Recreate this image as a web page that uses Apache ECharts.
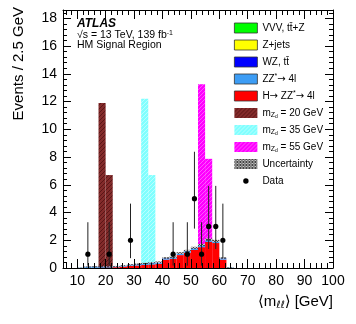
<!DOCTYPE html>
<html>
<head>
<meta charset="utf-8">
<script src="https://cdn.jsdelivr.net/npm/echarts@6/dist/echarts.min.js"></script>
<style>
  html, body { margin: 0; padding: 0; background: #fff; }
  #chart { width: 356px; height: 324px; }
</style>
</head>
<body>
<div id="chart"></div>
<script>
// histogram bins (low edges, GeV)
const binLow = [10, 12.5, 15, 17.5, 20, 22.5, 25, 27.5, 30, 32.5, 35, 37.5, 40, 42.5, 45, 47.5, 50, 52.5, 55, 57.5, 60, 62.5];
const binWidth = 2.5;

// background stack
const hzz = [0, 0, 0.01, 0.02, 0.03, 0.06, 0.1, 0.15, 0.18, 0.22, 0.26, 0.3, 0.6, 0.66, 0.93, 1.1, 1.3, 1.5, 1.88, 1.8, 0.6, 0];
const zz = [0.02, 0.07, 0.07, 0.06, 0.05, 0.05, 0.06, 0.07, 0.08, 0.09, 0.1, 0.1, 0.1, 0.1, 0.12, 0.12, 0.13, 0.14, 0.14, 0.12, 0.1, 0.03];
const wz = [0, 0.01, 0.01, 0.01, 0.01, 0.01, 0.01, 0.01, 0.02, 0.02, 0.02, 0.02, 0.02, 0.02, 0.02, 0.02, 0.02, 0.02, 0.02, 0.02, 0.02, 0];
const zjets = [0, 0, 0, 0, 0, 0, 0, 0, 0, 0, 0, 0, 0.005, 0.005, 0.005, 0.005, 0.005, 0.005, 0.005, 0.005, 0, 0];
const vvv = [0, 0, 0, 0, 0, 0, 0, 0, 0, 0, 0, 0, 0, 0, 0.003, 0.003, 0.003, 0.003, 0.003, 0.003, 0, 0];
const unc = [0.01, 0.03, 0.03, 0.03, 0.03, 0.03, 0.03, 0.04, 0.04, 0.04, 0.04, 0.05, 0.05, 0.05, 0.06, 0.06, 0.07, 0.07, 0.08, 0.08, 0.05, 0.02];

// signal hypotheses
const sig20Low = [17.5, 20];
const sig20 = [11.9, 6.7];
const sig35Low = [32.5, 35];
const sig35 = [12.2, 6.7];
const sig55Low = [52.5, 55];
const sig55 = [13.25, 7.87];

// data with asymmetric errors
const dataX = [13.75, 21.25, 28.75, 43.75, 48.75, 51.25, 53.75, 56.25, 58.75, 61.25];
const dataY = [1, 1, 2, 1, 1, 5, 1, 3, 3, 2];
const dataLo = [0.17, 0.17, 0.71, 0.17, 0.17, 2.84, 0.17, 1.37, 1.37, 0.71];
const dataHi = [3.3, 3.3, 4.64, 3.3, 3.3, 8.38, 3.3, 5.92, 5.92, 4.64];

// axis ticks
const xLabels = [10, 20, 30, 40, 50, 60, 70, 80, 90, 100];
const yLabels = [0, 2, 4, 6, 8, 10, 12, 14, 16, 18];
const xMinor = [];
for (let v = 6; v < 100; v += 2) if (v % 10 !== 0) xMinor.push(v);
const yMinor = [];
for (let i = 1; i < 47; i++) if (i % 5 !== 0) yMinor.push(+(i * 0.4).toFixed(1));

const FONT = "'Liberation Sans', 'DejaVu Sans', Arial, sans-serif";

function hatch(bg, fg, size, cross) {
  const c = document.createElement('canvas');
  c.width = size; c.height = size;
  const g = c.getContext('2d');
  if (bg) { g.fillStyle = bg; g.fillRect(0, 0, size, size); }
  g.strokeStyle = fg; g.lineWidth = 1;
  g.beginPath();
  g.moveTo(0, size); g.lineTo(size, 0);
  g.moveTo(-1, 1); g.lineTo(1, -1);
  g.moveTo(size - 1, size + 1); g.lineTo(size + 1, size - 1);
  if (cross) {
    g.moveTo(0, 0); g.lineTo(size, size);
    g.moveTo(size - 1, -1); g.lineTo(size + 1, 1);
    g.moveTo(-1, size - 1); g.lineTo(1, size + 1);
  }
  g.stroke();
  return { image: c, repeat: 'repeat' };
}

const brownFill = hatch('#832b2b', '#5a1616', 4, false);
const cyanFill = hatch('#80ffff', '#b8ffff', 4, false);
const magentaFill = hatch('#ff00ff', '#ff55ff', 4, false);
const uncFill = hatch('#c8c8c8', '#444444', 3, true);

// stacked rectangles for one component
const stackBase = binLow.map(() => 0);
function stackData(vals) {
  return binLow.map((lo, i) => {
    const b = stackBase[i];
    stackBase[i] = b + vals[i];
    return [lo, lo + binWidth, b, b + vals[i]];
  });
}
function sigData(lows, vals) {
  return lows.map((lo, i) => [lo, lo + binWidth, 0, vals[i]]);
}

function rectItem(params, api) {
  const p0 = api.coord([api.value(0), api.value(2)]);
  const p1 = api.coord([api.value(1), api.value(3)]);
  return {
    type: 'rect',
    shape: { x: p0[0], y: p1[1], width: p1[0] - p0[0], height: p0[1] - p1[1] },
    style: { fill: api.visual('color') }
  };
}

function histSeries(name, data, color, z) {
  return {
    name: name, type: 'custom', renderItem: rectItem, data: data, z: z,
    itemStyle: { color: color }, encode: { x: [0, 1], y: [2, 3] }, clip: true, silent: true
  };
}

const hData = stackData(hzz);
const zzData = stackData(zz);
const wzData = stackData(wz);
const zjData = stackData(zjets);
const vvvData = stackData(vvv);
const uncData = binLow.map((lo, i) => [lo, lo + binWidth, Math.max(0, stackBase[i] - unc[i]), stackBase[i] + unc[i]]);
const pointData = dataX.map((x, i) => [x, dataY[i], dataLo[i], dataHi[i]]);

const legendText = {
  'VVV, tt\u0304+Z': 'VVV, tt\u0304+Z',
  'Z+jets': 'Z+jets',
  'WZ, tt\u0304': 'WZ, tt\u0304',
  'ZZ*\u2192 4l': 'ZZ{sup|*}{arr|\u2192} 4l',
  'H\u2192 ZZ*\u2192 4l': 'H{arr|\u2192} ZZ{sup|*}{arr|\u2192} 4l',
  'mZd = 20 GeV': 'm{sub|Z}{ss|d} = 20 GeV',
  'mZd = 35 GeV': 'm{sub|Z}{ss|d} = 35 GeV',
  'mZd = 55 GeV': 'm{sub|Z}{ss|d} = 55 GeV',
  'Uncertainty': 'Uncertainty',
  'Data': 'Data'
};

const dotIcon = 'image://data:image/svg+xml;charset=utf-8,' + encodeURIComponent(
  '<svg xmlns="http://www.w3.org/2000/svg" width="23" height="10"><circle cx="11.5" cy="5" r="2.7" fill="black"/></svg>');

function tickAxis(pos, isX, values, len, labels) {
  const ax = {
    type: 'value', position: pos, min: isX ? 5 : 0, max: isX ? 100 : 18.6, z: 10,
    axisLine: { show: !!labels || labels === null, onZero: false, lineStyle: { color: '#000', width: 1 } },
    axisTick: { show: true, inside: true, length: len, customValues: values, lineStyle: { color: '#000', width: 1 } },
    axisLabel: { show: false },
    splitLine: { show: false }
  };
  if (labels) {
    ax.axisLabel = {
      show: true, customValues: labels, color: '#000', fontSize: 14, fontFamily: FONT, margin: 6
    };
  }
  return ax;
}

const chart = echarts.init(document.getElementById('chart'), null, { renderer: 'canvas' });
chart.setOption({
  animation: false,
  backgroundColor: '#fff',
  grid: { left: 63, right: 23, top: 10, bottom: 56, show: false },
  xAxis: [
    tickAxis('bottom', true, xLabels, 9, xLabels),
    tickAxis('bottom', true, xMinor, 5, undefined),
    tickAxis('top', true, xLabels, 9, null),
    tickAxis('top', true, xMinor, 5, undefined)
  ],
  yAxis: [
    tickAxis('left', false, yLabels, 8, yLabels),
    tickAxis('left', false, yMinor, 4, undefined),
    tickAxis('right', false, yLabels, 8, null),
    tickAxis('right', false, yMinor, 4, undefined)
  ],
  legend: {
    orient: 'vertical', left: 229, top: 17, itemWidth: 23, itemHeight: 10, itemGap: 5,
    icon: 'rect', selectedMode: false,
    itemStyle: { borderColor: '#333', borderWidth: 0.8 },
    textStyle: {
      fontFamily: FONT, fontSize: 10, color: '#000', lineHeight: 12,
      rich: {
        sup: { fontFamily: FONT, fontSize: 7, verticalAlign: 'top', lineHeight: 12 },
        arr: { fontFamily: 'DejaVu Sans', fontSize: 10, lineHeight: 12 },
        sub: { fontFamily: FONT, fontSize: 7, verticalAlign: 'bottom', lineHeight: 8 },
        ss: { fontFamily: FONT, fontSize: 5, verticalAlign: 'bottom', lineHeight: 4 }
      }
    },
    formatter: function (name) { return legendText[name]; },
    data: [
      { name: 'VVV, tt\u0304+Z' },
      { name: 'Z+jets' },
      { name: 'WZ, tt\u0304' },
      { name: 'ZZ*\u2192 4l' },
      { name: 'H\u2192 ZZ*\u2192 4l' },
      { name: 'mZd = 20 GeV', itemStyle: { borderWidth: 0 } },
      { name: 'mZd = 35 GeV', itemStyle: { borderWidth: 0 } },
      { name: 'mZd = 55 GeV', itemStyle: { borderWidth: 0 } },
      { name: 'Uncertainty', itemStyle: { borderWidth: 0 } },
      { name: 'Data', icon: dotIcon, itemStyle: { borderWidth: 0 } }
    ]
  },
  graphic: [
    { type: 'text', left: 77, top: 18, style: { text: 'ATLAS', font: 'italic bold 12px ' + FONT, fill: '#000' } },
    { type: 'text', left: 77, top: 30, style: {
        text: '\u221As = 13 TeV, 139 fb{sup|-1}', font: '10.5px ' + FONT, fill: '#000',
        rich: { sup: { fontSize: 7, verticalAlign: 'top', fontFamily: FONT } } } },
    { type: 'text', left: 77, top: 40, style: { text: 'HM Signal Region', font: '10.5px ' + FONT, fill: '#000' } },
    { type: 'text', x: 19, y: 7, rotation: Math.PI / 2,
      style: { text: 'Events / 2.5 GeV', font: '15px ' + FONT, fill: '#000', align: 'right', verticalAlign: 'middle' } },
    { type: 'text', x: 333, y: 302,
      style: { text: '\u27E8m{sub|\u2113\u2113}\u27E9 [GeV]', font: '15px ' + FONT, fill: '#000', align: 'right', verticalAlign: 'middle',
        rich: { sub: { fontSize: 10, fontFamily: 'DejaVu Sans', fontStyle: 'italic', verticalAlign: 'bottom', padding: [6, 0, 0, 0] } } } }
  ],
  series: [
    histSeries('mZd = 20 GeV', sigData(sig20Low, sig20), brownFill, 1),
    histSeries('mZd = 35 GeV', sigData(sig35Low, sig35), cyanFill, 1),
    histSeries('mZd = 55 GeV', sigData(sig55Low, sig55), magentaFill, 1),
    histSeries('H\u2192 ZZ*\u2192 4l', hData, '#ff0000', 2),
    histSeries('ZZ*\u2192 4l', zzData, '#3d9df5', 2),
    histSeries('WZ, tt\u0304', wzData, '#0000ff', 2),
    histSeries('Z+jets', zjData, '#ffff00', 2),
    histSeries('VVV, tt\u0304+Z', vvvData, '#00ff00', 2),
    histSeries('Uncertainty', uncData, uncFill, 3),
    {
      name: 'Data', type: 'custom', z: 5, silent: true, data: pointData,
      itemStyle: { color: '#000' }, encode: { x: 0, y: [1, 2, 3] },
      renderItem: function (params, api) {
        const x = api.value(0);
        const p = api.coord([x, api.value(1)]);
        const lo = api.coord([x, api.value(2)]);
        const hi = api.coord([x, api.value(3)]);
        return {
          type: 'group',
          children: [
            { type: 'line', shape: { x1: lo[0], y1: lo[1], x2: hi[0], y2: hi[1] }, style: { stroke: '#222', lineWidth: 1 } },
            { type: 'circle', shape: { cx: p[0], cy: p[1], r: 2.6 }, style: { fill: '#000' } }
          ]
        };
      }
    }
  ]
});
</script>
</body>
</html>
